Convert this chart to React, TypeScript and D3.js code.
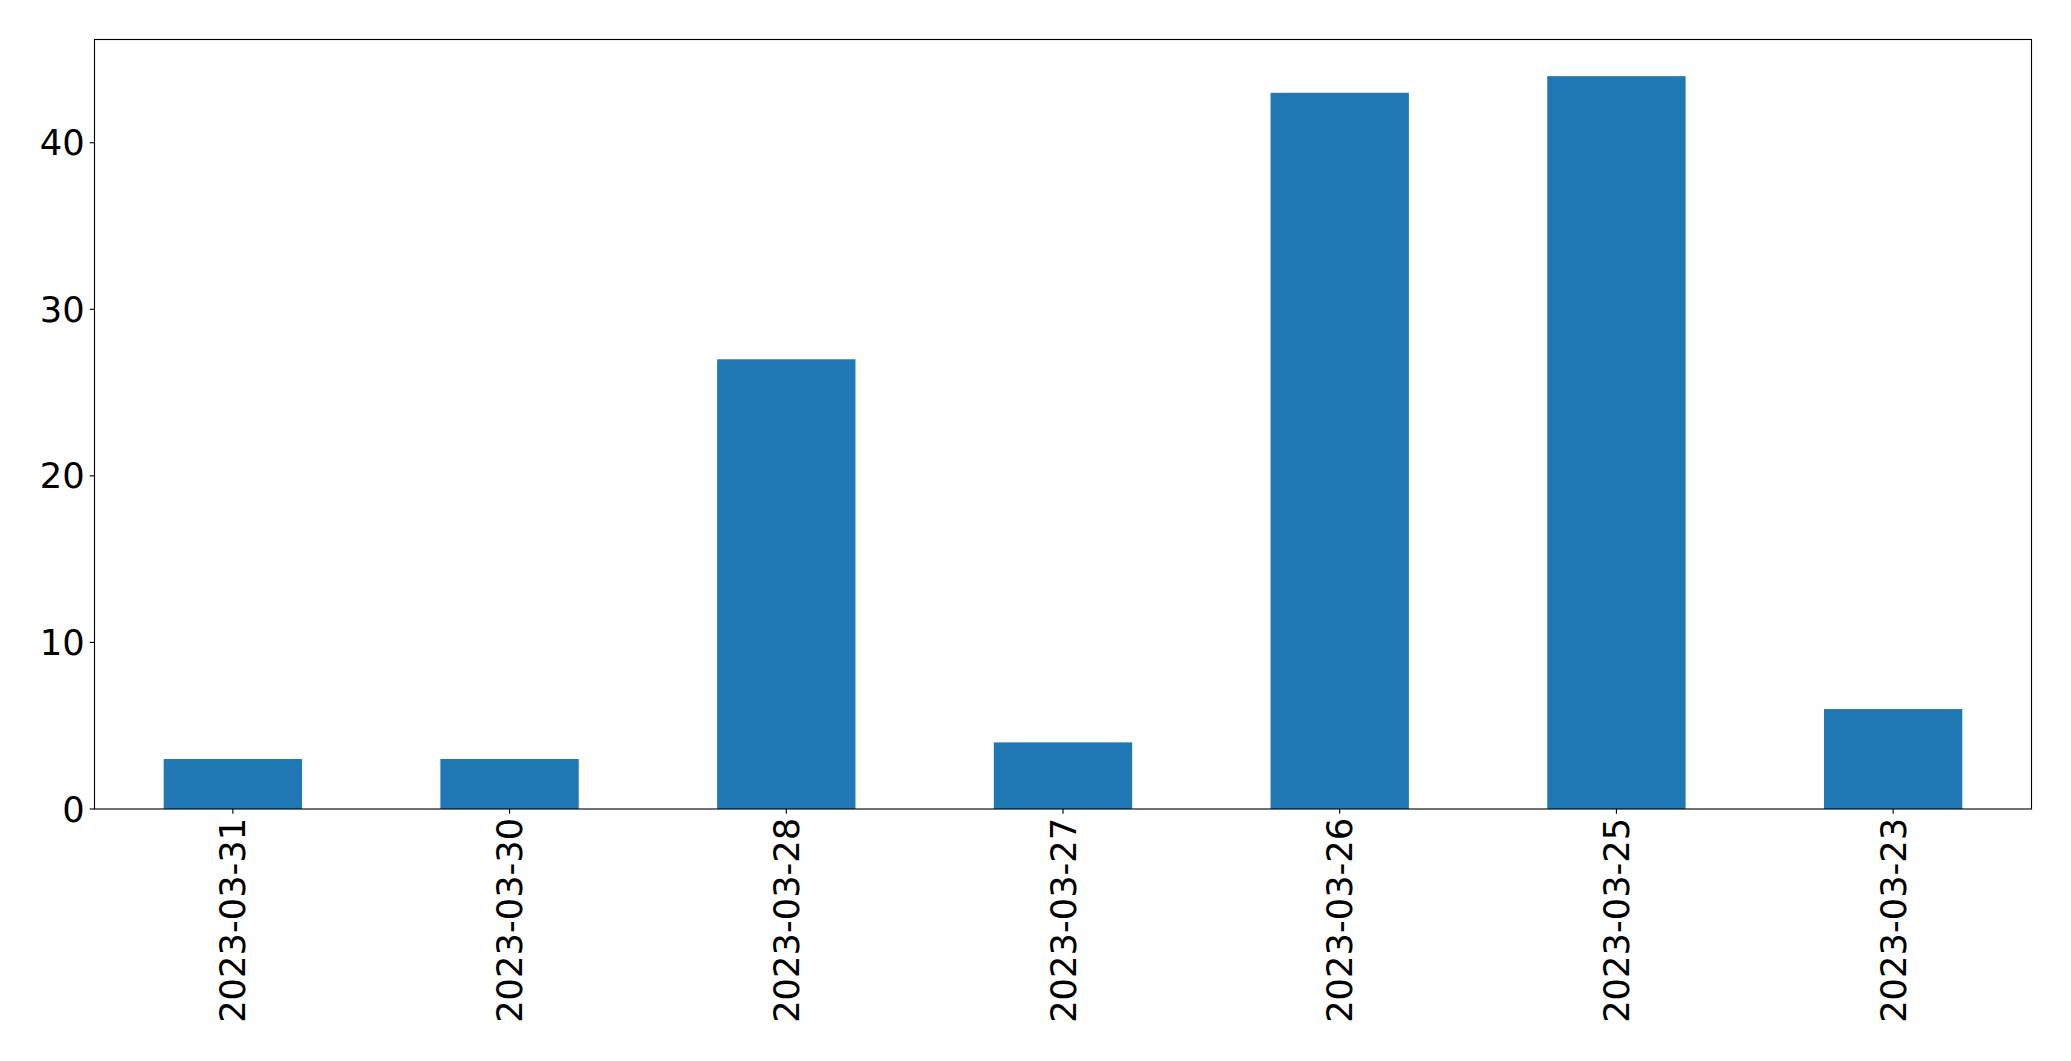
import React, { useEffect, useRef } from "react";
import * as d3 from "d3";

const categories = ["2023-03-31", "2023-03-30", "2023-03-28", "2023-03-27", "2023-03-26", "2023-03-25", "2023-03-23"];
const values = [3, 3, 27, 4, 43, 44, 6];
const yTicks = [0, 10, 20, 30, 40];

const W = 2071;
const H = 1061;
const left = 94.5;
const right = 2031.5;
const top = 39.5;
const bottom = 809;
const fontSize = 35.3;
const tickLen = 4.86;
const pad = 4.86;

export default function App() {
  const ref = useRef<SVGSVGElement>(null);
  useEffect(() => {
    const svg = d3.select(ref.current);
    svg.selectAll("*").remove();
    const n = categories.length;
    const x = d3.scaleLinear().domain([-0.5, n - 0.5]).range([left, right]);
    const yMax = d3.max(values)! * 1.05;
    const y = d3.scaleLinear().domain([0, yMax]).range([bottom, top]);

    svg.append("rect").attr("x", 0).attr("y", 0).attr("width", W).attr("height", H).attr("fill", "#fff");

    svg.append("g")
      .selectAll("rect")
      .data(values)
      .join("rect")
      .attr("x", (_, i) => x(i - 0.25))
      .attr("width", (_, i) => x(i + 0.25) - x(i - 0.25))
      .attr("y", (d) => y(d))
      .attr("height", (d) => y(0) - y(d))
      .attr("fill", "#1f77b4");

    // frame
    svg.append("rect")
      .attr("x", left).attr("y", top)
      .attr("width", right - left).attr("height", bottom - top)
      .attr("fill", "none").attr("stroke", "#000").attr("stroke-width", 1.11);

    const ty = svg.append("g");
    yTicks.forEach((t) => {
      ty.append("line")
        .attr("x1", left - tickLen).attr("x2", left)
        .attr("y1", y(t)).attr("y2", y(t))
        .attr("stroke", "#000").attr("stroke-width", 1.11);
      ty.append("text")
        .attr("x", left - tickLen - pad)
        .attr("y", y(t))
        .attr("text-anchor", "end")
        .attr("dominant-baseline", "central")
        .attr("font-family", "DejaVu Sans")
        .attr("font-size", fontSize)
        .attr("fill", "#000")
        .text(String(t));
    });

    const tx = svg.append("g");
    categories.forEach((c, i) => {
      const cx = x(i);
      tx.append("line")
        .attr("x1", cx).attr("x2", cx)
        .attr("y1", bottom).attr("y2", bottom + tickLen)
        .attr("stroke", "#000").attr("stroke-width", 1.11);
      tx.append("text")
        .attr("transform", `translate(${cx},${bottom + tickLen + pad - 1}) rotate(-90)`)
        .attr("text-anchor", "end")
        .attr("dominant-baseline", "central")
        .attr("font-family", "DejaVu Sans")
        .attr("font-size", fontSize)
        .attr("fill", "#000")
        .text(c);
    });
  }, []);

  return (
    <svg
      ref={ref}
      width={W}
      height={H}
      style={{ position: "absolute", left: 0, top: 0, display: "block" }}
    />
  );
}
